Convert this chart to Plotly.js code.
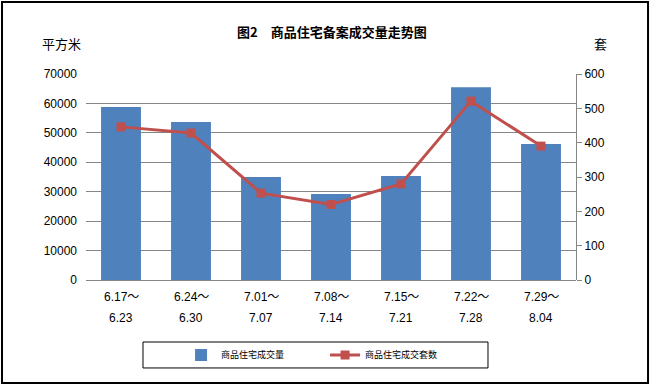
<!DOCTYPE html>
<html>
<head>
<meta charset="utf-8">
<script src="https://cdn.plot.ly/plotly-3.0.1.min.js"></script>
<style>
html,body{margin:0;padding:0;background:#fff;}
#chart{width:652px;height:388px;}
</style>
</head>
<body>
<div id="chart"></div>
<script>
// ---- data ----
const periodStart = ["6.17～","6.24～","7.01～","7.08～","7.15～","7.22～","7.29～"];
const periodEnd   = ["6.23","6.30","7.07","7.14","7.21","7.28","8.04"];
const areaSold    = [58800, 53700, 35000, 29200, 35300, 65500, 46200];   // 平方米
const unitsSold   = [446, 428, 253, 220, 280, 521, 390];                 // 套
const leftTicks   = [0,10000,20000,30000,40000,50000,60000,70000];
const rightTicks  = [0,100,200,300,400,500,600];
const seriesNames = ["商品住宅成交量","商品住宅成交套数"];
const titleText   = "图2　商品住宅备案成交量走势图";
const leftUnit    = "平方米";
const rightUnit   = "套";

const cats = periodStart.map((s,i)=> s + periodEnd[i]);
const FONT = "Liberation Sans, Noto Sans CJK SC, sans-serif";
const CJK = "Noto Sans CJK SC, sans-serif";

const traces = [
  {
    type:'bar', name:seriesNames[0], x:cats, y:areaSold, yaxis:'y',
    marker:{color:'#4F81BD'}
  },
  {
    type:'scatter', mode:'lines+markers', name:seriesNames[1], x:cats, y:unitsSold, yaxis:'y2',
    line:{color:'#C0504D', width:3},
    marker:{symbol:'square', size:9, color:'#C0504D'}
  }
];

const annotations = [];
cats.forEach((c,i)=>{
  annotations.push({x:c, xref:'x', y:-0.0825, yref:'paper', text:periodStart[i], showarrow:false,
    font:{family:FONT, size:12, color:'#000'}, xanchor:'center', yanchor:'middle'});
  annotations.push({x:c, xref:'x', y:-0.1845, yref:'paper', text:periodEnd[i], showarrow:false,
    font:{family:FONT, size:12, color:'#000'}, xanchor:'center', yanchor:'middle'});
});
annotations.push({x:-0.051, xref:'paper', y:1.146, yref:'paper', text:leftUnit, showarrow:false,
  font:{family:CJK, size:13, color:'#000'}, xanchor:'center', yanchor:'middle'});
annotations.push({x:1.051, xref:'paper', y:1.146, yref:'paper', text:rightUnit, showarrow:false,
  font:{family:CJK, size:13, color:'#000'}, xanchor:'center', yanchor:'middle'});

const layout = {
  width:652, height:388,
  margin:{l:86, r:76, t:74, b:108, pad:0},
  paper_bgcolor:'#fff', plot_bgcolor:'#fff',
  title:{text:'<b>'+titleText+'</b>', x:0.509, xanchor:'center', y:0.917, yanchor:'middle',
    font:{family:CJK, size:13, color:'#000'}},
  showlegend:true,
  legend:{orientation:'h', x:0.194, xanchor:'left', y:-0.364, yanchor:'middle',
    borderwidth:0, font:{family:CJK, size:9, color:'#000'},
    entrywidth:99, itemwidth:30, bgcolor:'rgba(0,0,0,0)'},
  bargap:0.43,
  xaxis:{type:'category', showticklabels:false, ticks:'', showgrid:false, showline:false, zeroline:false},
  yaxis:{range:[0,70000], tickvals:leftTicks, tickformat:'d', showgrid:true, gridcolor:'#868686', gridwidth:1,
    zeroline:true, zerolinecolor:'#868686', zerolinewidth:1, showline:false, ticks:'',
    ticklabelstandoff:8, tickfont:{family:FONT, size:12, color:'#000'}, fixedrange:true},
  yaxis2:{range:[0,600], tickvals:rightTicks, overlaying:'y', side:'right', showgrid:false, zeroline:false,
    showline:true, linecolor:'#868686', linewidth:1, ticks:'outside', ticklen:5, tickcolor:'#868686',
    tickfont:{family:FONT, size:12, color:'#000'}},
  annotations:annotations,
  shapes:[
    {type:'rect', xref:'paper', yref:'paper', x0:-0.1714, x1:1.147, y0:-0.5, y1:1.3495,
      line:{color:'#000', width:2}, fillcolor:'rgba(0,0,0,0)', layer:'above'},
    {type:'rect', xref:'paper', yref:'paper', x0:0.1163, x1:0.8204, y0:-0.427, y1:-0.301,
      line:{color:'#000', width:1}, fillcolor:'rgba(0,0,0,0)', layer:'above'}
  ]
};

Plotly.newPlot('chart', traces, layout, {staticPlot:true, displayModeBar:false});
</script>
</body>
</html>
